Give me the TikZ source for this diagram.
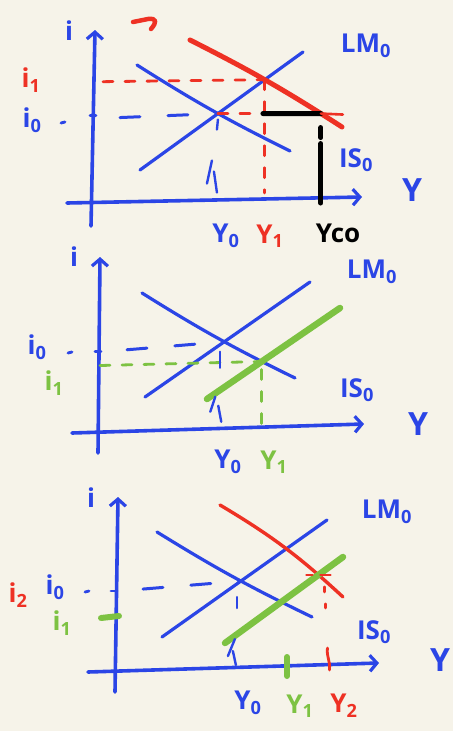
\documentclass[tikz,border=0pt]{standalone}
\usepackage{fontspec}
\setmainfont{Open Sans}
\usetikzlibrary{arrows.meta,intersections,calc}
\definecolor{bg}{HTML}{F6F3E9}
\definecolor{pblue}{HTML}{2B45E6}
\definecolor{pred}{HTML}{EE3124}
\definecolor{pgreen}{HTML}{7DC242}
\begin{document}
\begin{tikzpicture}[x=1pt,y=-1pt,line cap=round,line join=round,
  ax/.style={pblue,line width=3.6pt},
  crv/.style={pblue,line width=3.2pt},
  thk/.style={line width=5pt},
  gthk/.style={pgreen,line width=6.5pt},
  dsh/.style={line width=2.8pt,dash pattern=on 10pt off 12pt},
  bdsh/.style={pblue,line width=3pt,dash pattern=on 20pt off 28pt},
  lbl/.style={font=\bfseries\fontsize{26}{26}\selectfont,inner sep=0pt,pblue},
  big/.style={font=\bfseries\fontsize{32}{32}\selectfont},
  axtip/.style={-{Straight Barb[length=7pt,width=16pt,line width=3.2pt]}}]
\fill[bg] (0,0) rectangle (453,731);
\useasboundingbox (0,0) rectangle (453,731);

% ================= Panel 1 =================
\coordinate (p1yb) at (91,226); \coordinate (p1yt) at (95,30);
\coordinate (p1xl) at (67,203); \coordinate (p1xr) at (362,197);
\draw[ax,axtip] (p1yb) -- (p1yt);
\draw[ax,axtip] (p1xl) -- (p1xr);
\coordinate (p1isa) at (137,65); \coordinate (p1isb) at (290,151);
\coordinate (p1lma) at (140,170); \coordinate (p1lmb) at (303,52);
\coordinate (p1rda) at (190,40); \coordinate (p1rdb) at (342,127);
\draw[crv,name path=p1is] (p1isa) to[bend right=3] (p1isb);
\draw[crv,name path=p1lm] (p1lma) -- (p1lmb);
\draw[pred,thk,name path=p1rd] (p1rda) to[bend left=3] (p1rdb);
\path[name intersections={of=p1is and p1lm,by=p1E}];
\path[name intersections={of=p1rd and p1lm,by=p1F}];
\path[name path=p1h] (p1E) -- ++(160,0);
\path[name intersections={of=p1rd and p1h,by=p1C}];
% i1 red dashed guides
\draw[pred,dsh] ($(p1F -| p1yb)+(12,2)$) -- (p1F);
\draw[pred,dsh] (p1F) -- ($(p1F |- p1xl)+(0,-10)$);
% i0 blue guides
\draw[pblue,line width=2.8pt] ($(p1E -| p1yb)+(-1,2)$) -- ($(p1E -| p1yb)+(5,2)$);
\draw[pblue,line width=2.8pt] (61,123) -- (65,122);
\draw[bdsh] ($(p1E -| p1yb)+(29,4)$) -- (p1E);
\draw[pblue,line width=2.4pt] ($(p1E)+(0,6)$) -- ($(p1E)+(-1,16)$);
\draw[pblue,line width=2.4pt] ($(p1E)+(-6,47)$) -- ($(p1E)+(-11,70)$);
\draw[pblue,line width=2.4pt] ($(p1E)+(-4,58)$) -- ($(p1E)+(-1,79)$);
% red dash then black segment at i0
\draw[pred,dsh] (p1E) -- ($(p1E)+(36,0)$);
\draw[black,thk] ($(p1E)+(45,0)$) -- (p1C);
\draw[pred,line width=2.6pt] (p1C) -- ($(p1C)+(22,1)$);
\draw[pred,line width=3pt] ($(p1C)+(1,40)$) -- ($(p1C |- p1xl)+(1,-4)$);
\draw[black,thk] ($(p1C)+(0,14)$) -- ($(p1C)+(0,24)$);
\draw[black,thk] ($(p1C)+(0,30)$) -- (p1C |- p1xl);
% red mark at top
\draw[pred,line width=4.5pt] (133,22) -- (148,19) .. controls (157,18) and (157,22) .. (151,29);
% labels
\node[lbl] (p1li) at (69,31) {i};
\node[lbl,pred] (p1li1) at (31,80) {i\textsubscript{1}};
\node[lbl] (p1li0) at (32,120) {i\textsubscript{0}};
\node[lbl] (p1lLM) at (366,46) {LM\textsubscript{0}};
\node[lbl] (p1lIS) at (356,160) {IS\textsubscript{0}};
\node[lbl,big] (p1lY) at (412,190) {Y};
\node[lbl] (p1lY0) at (226,236) {Y\textsubscript{0}};
\node[lbl,pred] (p1lY1) at (270,236) {Y\textsubscript{1}};
\node[lbl,black] (p1lYc) at (338,233) {Yco};

% ================= Panel 2 =================
\coordinate (p2yb) at (98,453); \coordinate (p2yt) at (100,257);
\coordinate (p2xl) at (72,433); \coordinate (p2xr) at (364,424);
\draw[ax,axtip] (p2yb) -- (p2yt);
\draw[ax,axtip] (p2xl) -- (p2xr);
\coordinate (p2isa) at (142,293); \coordinate (p2isb) at (295,378);
\coordinate (p2lma) at (145,397); \coordinate (p2lmb) at (310,282);
\coordinate (p2gra) at (207,399); \coordinate (p2grb) at (340,308);
\draw[crv,name path=p2is] (p2isa) to[bend right=3] (p2isb);
\draw[crv,name path=p2lm] (p2lma) -- (p2lmb);
\draw[gthk,name path=p2gr] (p2gra) -- (p2grb);
\path[name intersections={of=p2is and p2lm,by=p2E}];
\path[name intersections={of=p2is and p2gr,by=p2G}];
\draw[pgreen,dsh] ($(p2G -| p2yb)+(2,4)$) -- (p2G);
\draw[pgreen,dsh] ($(p2G)+(0,8)$) -- ($(p2G |- p2xl)+(0,-8)$);
\draw[pblue,line width=2.8pt] ($(p2E -| p2yb)+(-3,10)$) -- ($(p2E -| p2yb)+(3,10)$);
\draw[pblue,line width=2.8pt] (68,353) -- (72,352);
\draw[bdsh] ($(p2E -| p2yb)+(29,8)$) -- (p2E);
\draw[pblue,line width=2.4pt] ($(p2E)+(-4,10)$) -- ($(p2E)+(-4,26)$);
\draw[pblue,line width=2.4pt] ($(p2E)+(-9,55)$) -- ($(p2E)+(-14,70)$);
\draw[pblue,line width=2.4pt] ($(p2E)+(-6,64)$) -- ($(p2E)+(-3,80)$);
\node[lbl] (p2li) at (74,257) {i};
\node[lbl] (p2li0) at (37,347) {i\textsubscript{0}};
\node[lbl,pgreen] (p2li1) at (54,383) {i\textsubscript{1}};
\node[lbl] (p2lLM) at (372,272) {LM\textsubscript{0}};
\node[lbl] (p2lIS) at (357,390) {IS\textsubscript{0}};
\node[lbl,big] (p2lY) at (418,424) {Y};
\node[lbl] (p2lY0) at (228,462) {Y\textsubscript{0}};
\node[lbl,pgreen] (p2lY1) at (274,462) {Y\textsubscript{1}};

% ================= Panel 3 =================
\coordinate (p3yb) at (115,692); \coordinate (p3yt) at (118,497);
\coordinate (p3xl) at (88,672); \coordinate (p3xr) at (379,663);
\draw[ax,axtip] (p3yb) -- (p3yt);
\draw[ax,axtip] (p3xl) -- (p3xr);
\coordinate (p3isa) at (157,532); \coordinate (p3isb) at (312,617);
\coordinate (p3lma) at (162,637); \coordinate (p3lmb) at (327,520);
\coordinate (p3rda) at (220,505); \coordinate (p3rdb) at (343,597);
\coordinate (p3gra) at (225,643); \coordinate (p3grb) at (343,557);
\draw[crv,name path=p3is] (p3isa) to[bend right=3] (p3isb);
\draw[crv,name path=p3lm] (p3lma) -- (p3lmb);
\draw[pred,line width=3.4pt,name path=p3rd] (p3rda) to[bend left=6] (p3rdb);
\draw[gthk,name path=p3gr] (p3gra) -- (p3grb);
\path[name intersections={of=p3is and p3lm,by=p3E}];
\path[name intersections={of=p3rd and p3gr,by=p3H}];
\draw[pred,line width=2.6pt] ($(p3H)+(-12,0)$) -- ($(p3H)+(-6,0)$);
\draw[pred,line width=2.6pt] ($(p3H)+(2,0)$) -- ($(p3H)+(12,0)$);
\draw[pred,line width=2.8pt] ($(p3H)+(6,12)$) -- ($(p3H)+(6,17)$);
\draw[pred,line width=2.8pt] ($(p3H)+(7,29)$) -- ($(p3H)+(7,33)$);
\draw[pred,line width=2.8pt] ($(p3H |- p3xl)+(9,-24)$) .. controls ($(p3H |- p3xl)+(8,-14)$) and ($(p3H |- p3xl)+(12,-12)$) .. ($(p3H |- p3xl)+(11,-2)$);
\draw[pgreen,line width=6pt] (287,657) -- (287,676);
\draw[pgreen,line width=6pt] (101,618) -- (119,616);
\draw[pblue,line width=2.8pt] ($(p3E -| p3yb)+(-4,10)$) -- ($(p3E -| p3yb)+(2,10)$);
\draw[pblue,line width=2.8pt] (85,592) -- (89,591);
\draw[bdsh] ($(p3E -| p3yb)+(28,8)$) -- (p3E);
\draw[pblue,line width=2.4pt] ($(p3E)+(-4,16)$) -- ($(p3E)+(-4,27)$);
\draw[pblue,line width=2.4pt] ($(p3E)+(-6,58)$) -- ($(p3E)+(-13,75)$);
\draw[pblue,line width=2.4pt] ($(p3E)+(-8,70)$) -- ($(p3E)+(-5,84)$);
\node[lbl] (p3li) at (91,498) {i};
\node[lbl,pred] (p3li2) at (18,595) {i\textsubscript{2}};
\node[lbl] (p3li0) at (55,587) {i\textsubscript{0}};
\node[lbl,pgreen] (p3li1) at (62,623) {i\textsubscript{1}};
\node[lbl] (p3lLM) at (387,512) {LM\textsubscript{0}};
\node[lbl] (p3lIS) at (374,632) {IS\textsubscript{0}};
\node[lbl,big] (p3lY) at (440,660) {Y};
\node[lbl] (p3lY0) at (248,703) {Y\textsubscript{0}};
\node[lbl,pgreen] (p3lY1) at (300,706) {Y\textsubscript{1}};
\node[lbl,pred] (p3lY2) at (344,706) {Y\textsubscript{2}};
\end{tikzpicture}
\end{document}
